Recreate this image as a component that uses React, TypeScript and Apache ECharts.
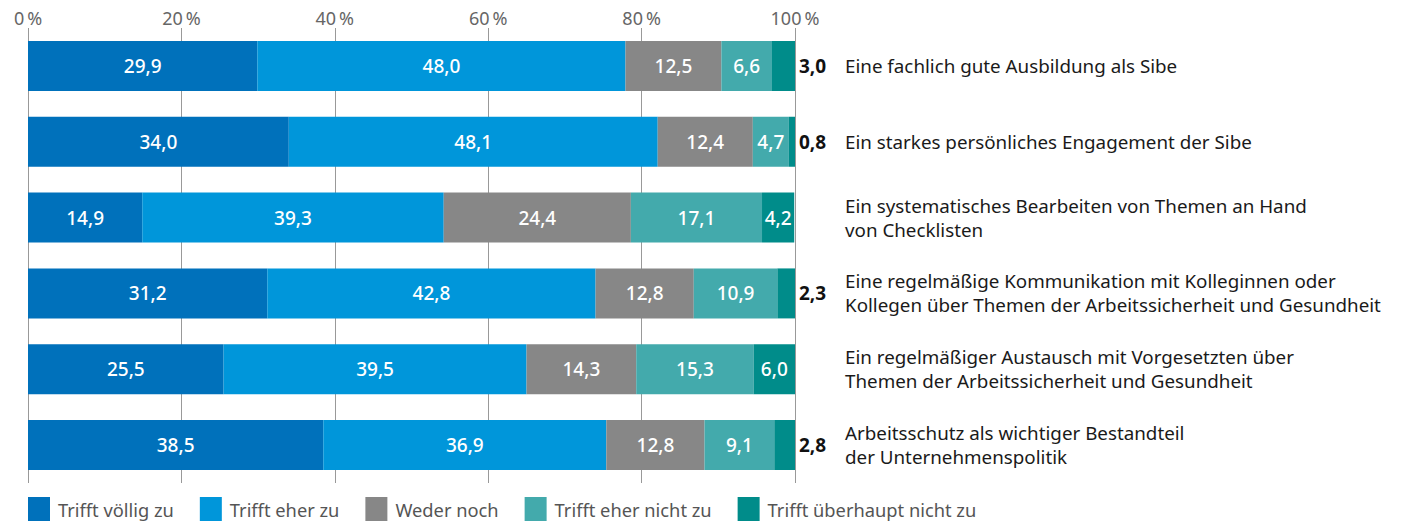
import React, { useEffect, useRef } from "react";
import * as echarts from "echarts";

const categories = [
  "Eine fachlich gute Ausbildung als Sibe",
  "Ein starkes persönliches Engagement der Sibe",
  "Ein systematisches Bearbeiten von Themen an Hand\nvon Checklisten",
  "Eine regelmäßige Kommunikation mit Kolleginnen oder\nKollegen über Themen der Arbeitssicherheit und Gesundheit",
  "Ein regelmäßiger Austausch mit Vorgesetzten über\nThemen der Arbeitssicherheit und Gesundheit",
  "Arbeitsschutz als wichtiger Bestandteil\nder Unternehmenspolitik",
];

const seriesNames = [
  "Trifft völlig zu",
  "Trifft eher zu",
  "Weder noch",
  "Trifft eher nicht zu",
  "Trifft überhaupt nicht zu",
];

const trifftVoellig = [29.9, 34.0, 14.9, 31.2, 25.5, 38.5];
const trifftEher = [48.0, 48.1, 39.3, 42.8, 39.5, 36.9];
const wederNoch = [12.5, 12.4, 24.4, 12.8, 14.3, 12.8];
const trifftEherNicht = [6.6, 4.7, 17.1, 10.9, 15.3, 9.1];
const trifftUeberhauptNicht = [3.0, 0.8, 4.2, 2.3, 6.0, 2.8];

const tickValues = [0, 20, 40, 60, 80, 100];

const colors = ["#0071BB", "#0096DA", "#878787", "#43AAAC", "#008C8A"];

const FONT = "Noto Sans";

const fmt = (v: number) => v.toFixed(1).replace(".", ",");

export default function App() {
  const ref = useRef<HTMLDivElement>(null);
  useEffect(() => {
    if (!ref.current) return;
    const chart = echarts.init(ref.current, undefined, { renderer: "svg" });
    const allData = [trifftVoellig, trifftEher, wederNoch, trifftEherNicht, trifftUeberhauptNicht];
    const series = allData.map((arr, si) => ({
      name: seriesNames[si],
      type: "bar",
      stack: "total",
      barWidth: 50,
      itemStyle: { color: colors[si] },
      label: {
        show: true,
        position: "inside",
        color: "#fff",
        fontFamily: FONT,
        fontSize: 19,
        fontWeight: 500,
        formatter: (p: any) => fmt(p.value),
      },
      data: arr.map((v) =>
        si === 4 && v < 3.5
          ? {
              value: v,
              label: {
                position: "right",
                distance: 4,
                color: "#111",
                fontWeight: "bold",
              },
            }
          : v
      ),
    }));
    chart.setOption({
      animation: false,
      textStyle: { fontFamily: FONT },
      grid: { left: 28, right: 608, top: 28, bottom: 40 },
      legend: {
        data: seriesNames,
        left: 28,
        bottom: 2,
        padding: 0,
        itemWidth: 22,
        itemHeight: 24,
        itemGap: 26,
        icon: "rect",
        textStyle: { color: "#555", fontSize: 18.3, fontFamily: FONT, padding: [0, 0, 0, 3] },
      },
      xAxis: {
        type: "value",
        position: "top",
        min: 0,
        max: 100,
        interval: 20,
        axisLine: { show: false },
        axisTick: { show: false },
        splitLine: { show: true, lineStyle: { color: "#999", width: 1 } },
        axisLabel: {
          color: "#666",
          fontSize: 18,
          fontFamily: FONT,
          margin: 1,
          formatter: (v: number) => (tickValues.includes(v) ? v + "\u2009%" : ""),
        },
      },
      yAxis: {
        type: "category",
        data: categories,
        inverse: true,
        position: "right",
        axisLine: { show: false },
        axisTick: { show: false },
        axisLabel: {
          margin: 50,
          align: "left",
          color: "#1a1a1a",
          fontSize: 18.8,
          lineHeight: 24,
          fontFamily: FONT,
        },
      },
      series,
    });
    return () => chart.dispose();
  }, []);
  return (
    <div
      ref={ref}
      style={{ position: "fixed", left: 0, top: 0, width: 1403, height: 523, background: "#fff" }}
    />
  );
}
